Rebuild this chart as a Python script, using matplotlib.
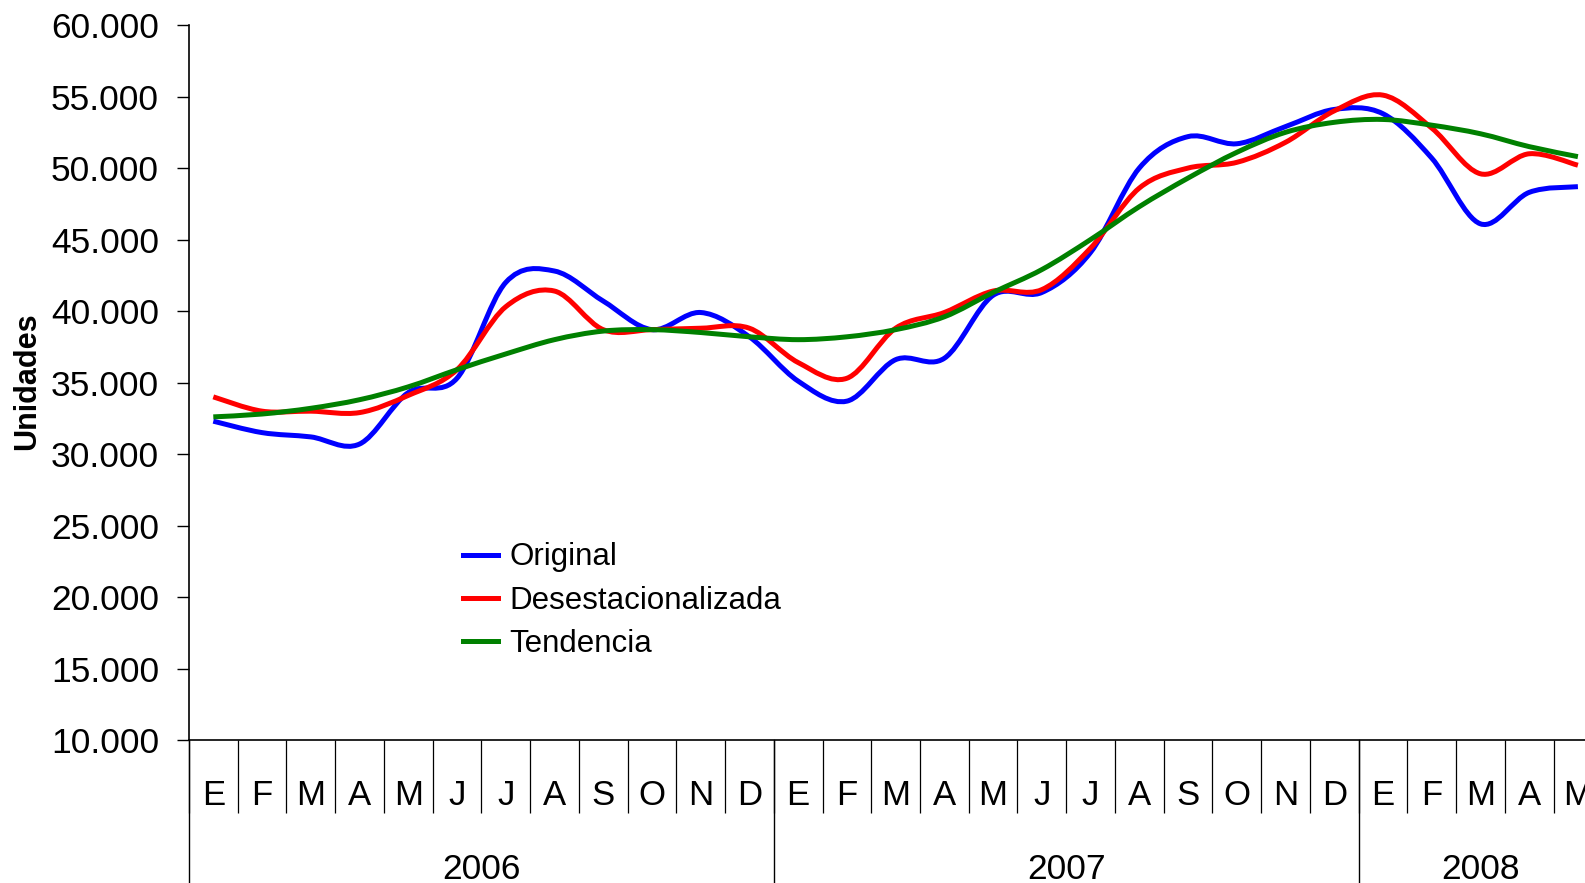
import numpy as np
import matplotlib
matplotlib.use("Agg")
import matplotlib.pyplot as plt
from matplotlib.path import Path
from matplotlib.patches import PathPatch
from matplotlib.lines import Line2D
from matplotlib.ticker import FuncFormatter

plt.rcParams['font.family'] = ['Liberation Sans', 'DejaVu Sans']

# Datos mensuales (unidades), enero 2006 - mayo 2008
meses = ['E', 'F', 'M', 'A', 'M', 'J', 'J', 'A', 'S', 'O', 'N', 'D'] * 2 + ['E', 'F', 'M', 'A', 'M']
anios = ['2006', '2007', '2008']
meses_por_anio = [12, 12, 5]

original = [32300, 31500, 31200, 30700, 34300, 35300, 42000, 42800, 40700, 38700, 39900, 38200,
            35100, 33700, 36600, 36700, 41100, 41300, 44100, 50000, 52200, 51700, 52900, 54100,
            53800, 50700, 46100, 48300, 48700]
desestacionalizada = [34000, 33000, 33000, 32900, 34100, 35900, 40300, 41400, 38700, 38700, 38800, 38800,
                      36400, 35300, 38800, 39900, 41400, 41500, 44400, 48600, 50000, 50400, 51800, 54000,
                      55100, 52800, 49600, 51000, 50200]
tendencia = [32600, 32800, 33200, 33800, 34700, 35900, 37000, 38000, 38600, 38700, 38500, 38200,
             38000, 38200, 38700, 39600, 41300, 42900, 45000, 47300, 49300, 51100, 52500, 53200,
             53400, 53000, 52400, 51500, 50800]

series = [(original, 'Original', '#0000FF'),
          (desestacionalizada, 'Desestacionalizada', '#FF0000'),
          (tendencia, 'Tendencia', '#008000')]


def curva_suave(x, y):
    # linea suavizada tipo Excel: bezier cubica por los puntos (Catmull-Rom)
    x = np.asarray(x, float)
    y = np.asarray(y, float)
    n = len(x)
    verts = [(x[0], y[0])]
    codes = [Path.MOVETO]
    for i in range(n - 1):
        i0 = max(i - 1, 0)
        i3 = min(i + 2, n - 1)
        c1 = (x[i] + (x[i + 1] - x[i0]) / 6, y[i] + (y[i + 1] - y[i0]) / 6)
        c2 = (x[i + 1] - (x[i3] - x[i]) / 6, y[i + 1] - (y[i3] - y[i]) / 6)
        verts += [c1, c2, (x[i + 1], y[i + 1])]
        codes += [Path.CURVE4] * 3
    return Path(verts, codes)


fig = plt.figure(figsize=(15.85, 8.83), dpi=100)
ax = fig.add_axes([0.1192, 0.1619, 0.8917, 0.8097])

n = len(meses)
x = np.arange(n) + 0.5
for datos, nombre, color in series:
    ax.add_patch(PathPatch(curva_suave(x, datos), facecolor='none', edgecolor=color,
                           lw=3.6, joinstyle='round', capstyle='butt'))

ax.set_xlim(0, n)
ax.set_ylim(10000, 60000)
ax.set_yticks(np.arange(10000, 60001, 5000))
ax.yaxis.set_major_formatter(FuncFormatter(lambda v, p: f'{v:,.0f}'.replace(',', '.')))
ax.tick_params(axis='y', direction='out', length=8.6, width=1.0, pad=13, labelsize=25.5)

ax.set_xticks(np.arange(0, n + 1))
ax.tick_params(axis='x', direction='out', length=52.6, width=0.9, labelbottom=False)

for s in ['top', 'right']:
    ax.spines[s].set_visible(False)
for s in ['left', 'bottom']:
    ax.spines[s].set_linewidth(1.2)

trans = ax.get_xaxis_transform()
# etiquetas de meses (la ultima queda cortada por el borde, como en el original)
for i, m in enumerate(meses):
    ax.text(i + 0.5, -0.0909, m, transform=trans, ha='center', va='baseline', fontsize=25)

# separadores y etiquetas de anios
inicio = 0
for anio, k in zip(anios, meses_por_anio):
    ax.plot([inicio, inicio], [0, -0.3], transform=trans, color='black', lw=1.0, clip_on=False)
    ax.text(inicio + k / 2, -0.1944, anio, transform=trans, ha='center', va='baseline', fontsize=25.5)
    inicio += k

fig.text(27 / 1585, 1 - 381 / 883, 'Unidades', rotation=90, ha='center', va='center',
         fontsize=22, fontweight='bold')

handles = [Line2D([], [], color=c, lw=3.6) for _, _, c in series]
ax.legend(handles, [s[1] for s in series], loc='center left', bbox_to_anchor=(0.1939, 0.195),
          frameon=False, fontsize=22.5, handlelength=1.12, handletextpad=0.36,
          labelspacing=0.42, borderpad=0, borderaxespad=0)

fig.savefig('out.png', dpi=100)
